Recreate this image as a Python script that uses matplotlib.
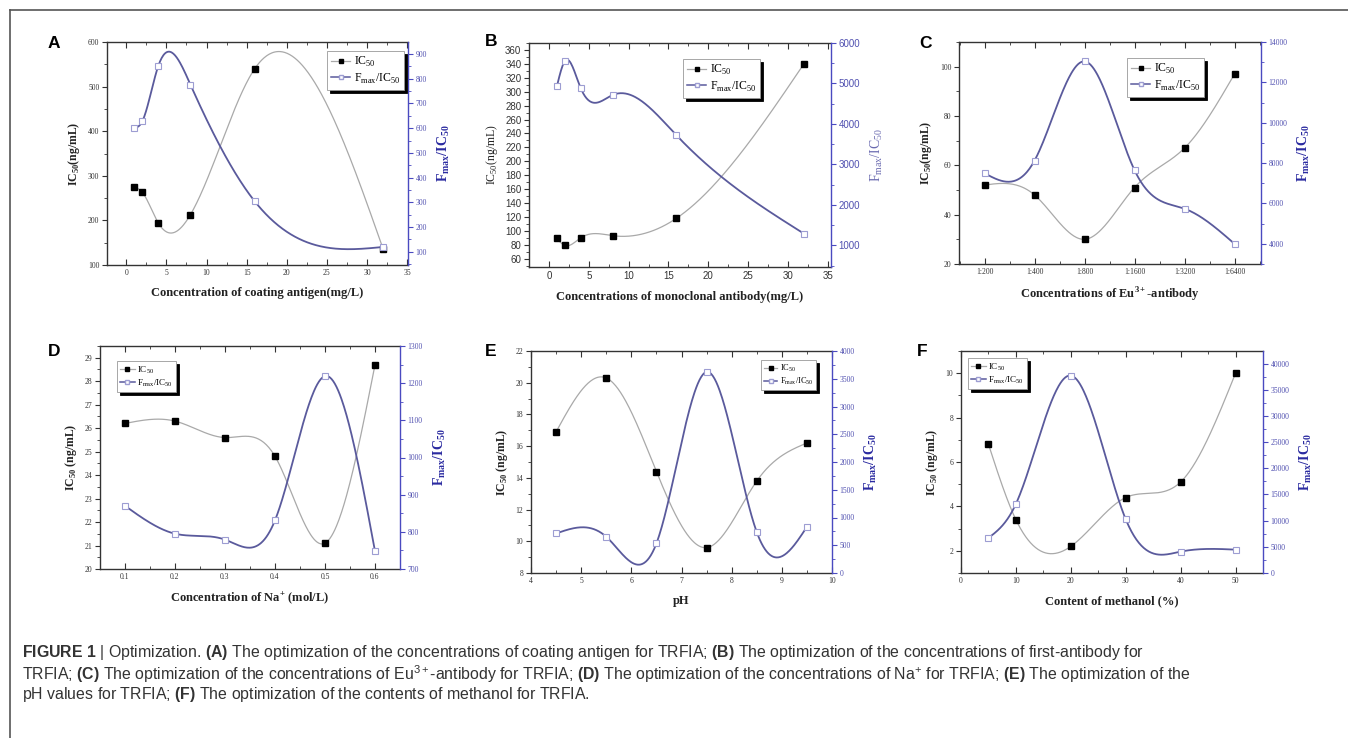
import numpy as np
import matplotlib
matplotlib.use('Agg')
import matplotlib.pyplot as plt
from matplotlib.ticker import MultipleLocator, FixedLocator
from matplotlib.lines import Line2D

plt.rcParams['font.family'] = ['Liberation Serif', 'DejaVu Serif']
plt.rcParams['mathtext.fontset'] = 'custom'
plt.rcParams['mathtext.rm'] = 'Liberation Sans'
plt.rcParams['mathtext.it'] = 'Liberation Sans:italic'
plt.rcParams['mathtext.bf'] = 'Liberation Sans:bold'

W, H = 1348, 738

# ---- data ----
a_x = [1, 2, 4, 8, 16, 32]
a_ic50 = [275, 263, 194, 213, 540, 136]
a_ratio = [600, 628, 853, 776, 304, 119]

b_x = [1, 2, 4, 8, 16, 32]
b_ic50 = [89, 79, 90, 93, 118, 340]
b_ratio = [4930, 5555, 4880, 4715, 3720, 1290]

c_labels = ['1:200', '1:400', '1:800', '1:1600', '1:3200', '1:6400']
c_ic50 = [52, 48, 30, 51, 67, 97]
c_ratio = [7500, 8120, 13040, 7650, 5740, 4000]

d_x = [0.1, 0.2, 0.3, 0.4, 0.5, 0.6]
d_ic50 = [26.2, 26.3, 25.6, 24.8, 21.1, 28.7]
d_ratio = [870, 795, 779, 831, 1219, 748]

e_x = [4.5, 5.5, 6.5, 7.5, 8.5, 9.5]
e_ic50 = [16.9, 20.3, 14.4, 9.6, 13.8, 16.2]
e_ratio = [712, 653, 533, 3623, 737, 832]

f_x = [5, 10, 20, 30, 40, 50]
f_ic50 = [6.8, 3.4, 2.2, 4.4, 5.1, 10.0]
f_ratio = [6690, 13190, 37710, 10260, 4080, 4460]

GRAY = '#a9a9a9'
PURPLE = '#5a5a9c'
LIGHT = '#9d9dd2'
BLUE = '#4a4ac0'
BLUE_TXT = '#2a2aa0'


def spline(x, y, n=300):
    """natural cubic spline through the points (like Origin's spline line)"""
    x = np.asarray(x, float)
    y = np.asarray(y, float)
    h = np.diff(x)
    m = len(x)
    A = np.zeros((m, m))
    r = np.zeros(m)
    A[0, 0] = A[-1, -1] = 1
    for i in range(1, m - 1):
        A[i, i - 1] = h[i - 1]
        A[i, i] = 2 * (h[i - 1] + h[i])
        A[i, i + 1] = h[i]
        r[i] = 3 * ((y[i + 1] - y[i]) / h[i] - (y[i] - y[i - 1]) / h[i - 1])
    c = np.linalg.solve(A, r)
    b = (y[1:] - y[:-1]) / h - h * (2 * c[:-1] + c[1:]) / 3
    d = (c[1:] - c[:-1]) / (3 * h)
    xs = np.linspace(x[0], x[-1], n)
    idx = np.clip(np.searchsorted(x, xs) - 1, 0, m - 2)
    t = xs - x[idx]
    return xs, y[idx] + b[idx] * t + c[idx] * t ** 2 + d[idx] * t ** 3


def box(l, t, r, b):
    return [l / W, 1 - b / H, (r - l) / W, (b - t) / H]


def panel(fig, rect, letter, letter_xy, x, ic50, ratio, xlim, ylim, rlim,
          xmaj, xmin, ymaj, ymin, rmaj, rmin, xlabel, ylabel,
          leg_xy, leg_size, lab_size=8.5, tick_size=5.5, tick_family=None,
          label_bold=True, xticklabels=None):
    ax = fig.add_axes(box(*rect))
    ax2 = ax.twinx()
    xs, ys = spline(x, ic50)
    ax.plot(xs, ys, color=GRAY, lw=0.9, zorder=2)
    ax.plot(x, ic50, ls='none', marker='s', ms=4.5, mfc='black', mec='black', zorder=3)
    xs, ys = spline(x, ratio)
    ax2.plot(xs, ys, color=PURPLE, lw=1.3, zorder=2)
    ax2.plot(x, ratio, ls='none', marker='s', ms=4.5, mfc='white', mec=LIGHT, mew=0.8, zorder=3)

    if xticklabels is not None:
        ax.xaxis.set_major_locator(FixedLocator(x))
        ax.set_xticklabels(xticklabels)
    else:
        ax.xaxis.set_major_locator(MultipleLocator(xmaj))
    ax.xaxis.set_minor_locator(MultipleLocator(xmin))
    ax.yaxis.set_major_locator(MultipleLocator(ymaj))
    ax.yaxis.set_minor_locator(MultipleLocator(ymin))
    ax2.yaxis.set_major_locator(MultipleLocator(rmaj))
    ax2.yaxis.set_minor_locator(MultipleLocator(rmin))
    ax.set_xlim(*xlim)
    ax.set_ylim(*ylim)
    ax2.set_ylim(*rlim)

    for s in ['left', 'top', 'bottom']:
        ax2.spines[s].set_visible(False)
    ax.spines['right'].set_visible(False)
    for s in ['left', 'top', 'bottom']:
        ax.spines[s].set_color('#333333')
        ax.spines[s].set_linewidth(1.0)
    ax2.spines['right'].set_color(BLUE)
    ax2.spines['right'].set_linewidth(1.0)

    ax.tick_params(axis='x', which='both', direction='in', top=True, color='#333333',
                   labelsize=tick_size, labelcolor='#333333', pad=3)
    ax.tick_params(axis='x', which='major', length=4)
    ax.tick_params(axis='x', which='minor', length=2)
    ax.tick_params(axis='y', which='both', direction='out', color='#333333',
                   labelsize=tick_size, labelcolor='#333333', pad=2)
    ax.tick_params(axis='y', which='major', length=3.5)
    ax.tick_params(axis='y', which='minor', length=2)
    ax2.tick_params(axis='y', which='both', direction='out', color=BLUE,
                    labelsize=tick_size, labelcolor='#5050b0', pad=2)
    ax2.tick_params(axis='y', which='major', length=3.5)
    ax2.tick_params(axis='y', which='minor', length=2)
    if tick_family:
        ax.tick_params(axis='both', labelfontfamily=tick_family)
        ax2.tick_params(axis='y', labelfontfamily=tick_family)

    wt = 'bold' if label_bold else 'normal'
    ax.set_xlabel(xlabel, fontsize=9, fontweight='bold', color='#222222', labelpad=7)
    ax.set_ylabel(ylabel, fontsize=lab_size, fontweight=wt, color='#222222', labelpad=4)
    ax2.set_ylabel(r'F$_{\mathregular{max}}$/IC$_{\mathregular{50}}$', fontsize=lab_size + 1.5,
                   fontweight=wt, color=BLUE_TXT if label_bold else '#6a6ab0', labelpad=6)

    handles = [
        Line2D([], [], color=GRAY, lw=0.9, marker='s', ms=3.5, mfc='black', mec='black'),
        Line2D([], [], color=PURPLE, lw=1.1, marker='s', ms=3.5, mfc='white', mec=LIGHT),
    ]
    leg = ax2.legend(handles, [r'IC$_{\mathregular{50}}$', r'F$_{\mathregular{max}}$/IC$_{\mathregular{50}}$'],
                     loc='upper left', bbox_to_anchor=(leg_xy[0] / W, 1 - leg_xy[1] / H),
                     bbox_transform=fig.transFigure, fontsize=leg_size, frameon=True,
                     fancybox=False, shadow={'color': 'black', 'alpha': 1},
                     handlelength=1.6, handletextpad=0.3, borderpad=0.35,
                     labelspacing=0.2, borderaxespad=0)
    leg.get_frame().set_edgecolor('#999999')
    leg.get_frame().set_linewidth(0.6)

    fig.text(letter_xy[0] / W, 1 - letter_xy[1] / H, letter, fontsize=12.5,
             fontweight='bold', family='Liberation Sans', ha='center', va='center')
    return ax, ax2


fig = plt.figure(figsize=(W / 100, H / 100), dpi=100)

panel(fig, (107, 42, 408, 265), 'A', (54, 44), a_x, a_ic50, a_ratio,
      (-2.4, 35.1), (100, 600), (46, 949), 5, 2.5, 100, 50, 100, 50,
      'Concentration of coating antigen(mg/L)', r'IC$_{\mathregular{50}}$(ng/mL)',
      (327, 51), 8.5)

panel(fig, (529, 43, 831, 267), 'B', (491, 42), b_x, b_ic50, b_ratio,
      (-2.5, 35.4), (48, 370), (465, 6000), 5, 2.5, 20, 10, 1000, 500,
      'Concentrations of monoclonal antibody(mg/L)', r'IC$_{\mathregular{50}}$(ng/mL)',
      (683, 59), 8.5, tick_size=7, tick_family='Liberation Sans', label_bold=False)

panel(fig, (959, 42, 1261, 264), 'C', (926, 43), list(range(len(c_labels))), c_ic50, c_ratio,
      (-0.51, 5.53), (20, 110), (3000, 14000), 1, 0.5, 20, 10, 2000, 1000,
      r'Concentrations of Eu$^{\mathregular{3+}}$-antibody', r'IC$_{\mathregular{50}}$(ng/mL)',
      (1127, 58), 8.5, xticklabels=c_labels)

panel(fig, (100, 346, 400, 569), 'D', (54, 351), d_x, d_ic50, d_ratio,
      (0.05, 0.65), (20, 29.5), (700, 1300), 0.1, 0.05, 1, 0.5, 100, 50,
      r'Concentration of Na$^{\mathregular{+}}$ (mol/L)', r'IC$_{\mathregular{50}}$ (ng/mL)',
      (117, 361), 6.5)

panel(fig, (531, 351, 832, 573), 'E', (491, 352), e_x, e_ic50, e_ratio,
      (4, 10), (8, 22), (0, 4000), 1, 0.5, 2, 1, 500, 250,
      'pH', r'IC$_{\mathregular{50}}$ (ng/mL)',
      (761, 360), 6.0)

panel(fig, (961, 351, 1263, 573), 'F', (922, 352), f_x, f_ic50, f_ratio,
      (0, 55), (1, 11), (0, 42400), 10, 5, 2, 1, 5000, 2500,
      'Content of methanol (%)', r'IC$_{\mathregular{50}}$ (ng/mL)',
      (968, 358), 6.5)

# frame lines (left and top only)
fig.add_artist(Line2D([10 / W, 10 / W], [0, 1 - 10 / H], color='#555555', lw=1.2))
fig.add_artist(Line2D([10 / W, 1], [1 - 10 / H, 1 - 10 / H], color='#555555', lw=1.2))

caption = [
    r'$\mathbf{FIGURE\ 1}$ | Optimization. $\mathbf{(A)}$ The optimization of the concentrations of coating antigen for TRFIA; '
    r'$\mathbf{(B)}$ The optimization of the concentrations of first-antibody for',
    r'TRFIA; $\mathbf{(C)}$ The optimization of the concentrations of Eu$^{3+}$-antibody for TRFIA; '
    r'$\mathbf{(D)}$ The optimization of the concentrations of Na$^{+}$ for TRFIA; $\mathbf{(E)}$ The optimization of the',
    r'pH values for TRFIA; $\mathbf{(F)}$ The optimization of the contents of methanol for TRFIA.',
]
for i, line in enumerate(caption):
    fig.text(22 / W, 1 - (653 + 21 * i) / H, line, fontsize=11.4, family='Liberation Sans',
             color='#333333', ha='left', va='center')

fig.savefig('out.png', dpi=100)
